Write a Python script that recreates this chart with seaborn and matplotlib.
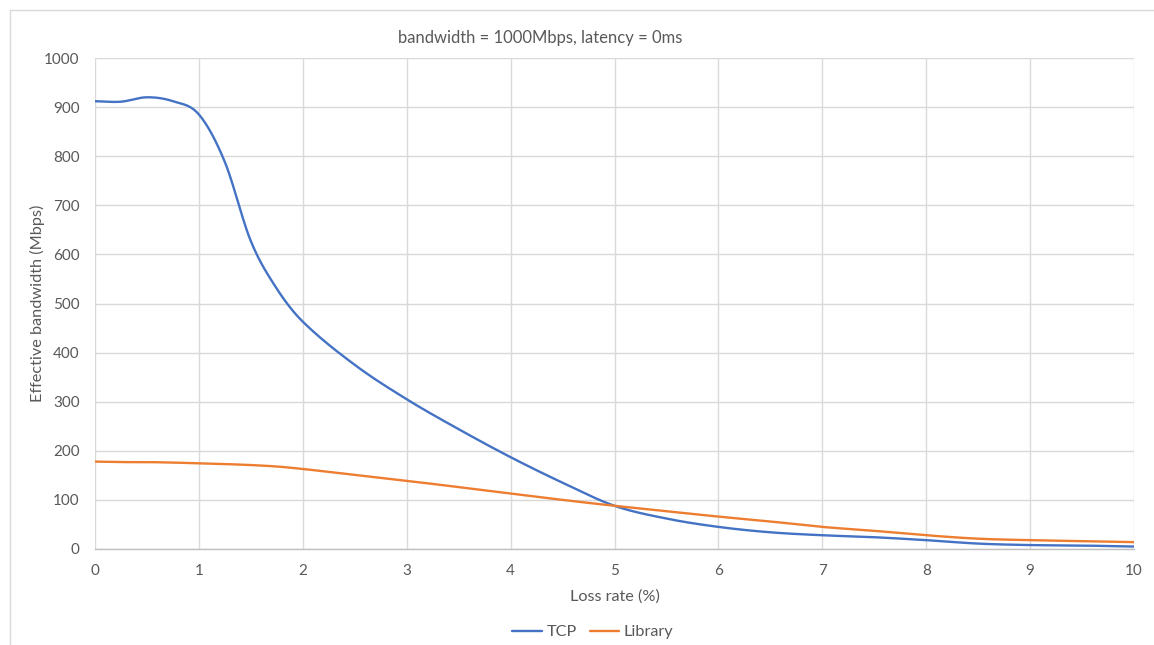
import numpy as np
import pandas as pd
import matplotlib
matplotlib.use("Agg")
import matplotlib.pyplot as plt
from matplotlib.lines import Line2D
import seaborn as sns

# Measured effective bandwidth vs. packet loss rate
loss_rate = [0, 0.25, 0.5, 0.75, 1, 1.25, 1.5, 1.75, 2, 2.5, 3, 3.5, 4, 4.5,
             5, 5.5, 6, 6.5, 7, 7.5, 8, 8.5, 9, 9.5, 10]
tcp_bw = [912, 911, 920, 912, 885, 788, 627, 530, 463, 375, 305, 244, 187, 135,
          88, 62, 45, 34, 28, 24, 18, 11, 8, 7, 5]
library_bw = [178, 177, 177, 176, 174.5, 173, 171, 168, 163, 151, 139, 126, 113, 100,
              88, 77, 66, 56, 45, 37, 28, 21, 18, 16, 14]
series_names = ["TCP", "Library"]
x_ticks = list(range(0, 11))
y_ticks = list(range(0, 1001, 100))

TITLE = "bandwidth = 1000Mbps, latency = 0ms"
XLABEL = "Loss rate (%)"
YLABEL = "Effective bandwidth (Mbps)"


def smooth_curve(x, y, n=24):
    """Catmull-Rom style smoothed line through the given points."""
    x = np.asarray(x, float)
    y = np.asarray(y, float)
    xs, ys = [], []
    for i in range(len(x) - 1):
        x0, x1 = x[i], x[i + 1]
        y0, y1 = y[i], y[i + 1]
        if i == 0:
            m0 = (y1 - y0) / (x1 - x0)
        else:
            m0 = (y[i + 1] - y[i - 1]) / (x[i + 1] - x[i - 1])
        if i == len(x) - 2:
            m1 = (y1 - y0) / (x1 - x0)
        else:
            m1 = (y[i + 2] - y[i]) / (x[i + 2] - x[i])
        h = x1 - x0
        t = np.linspace(0, 1, n, endpoint=(i == len(x) - 2))
        h00 = 2 * t**3 - 3 * t**2 + 1
        h10 = t**3 - 2 * t**2 + t
        h01 = -2 * t**3 + 3 * t**2
        h11 = t**3 - t**2
        xs.append(x0 + t * h)
        ys.append(h00 * y0 + h10 * h * m0 + h01 * y1 + h11 * h * m1)
    return np.concatenate(xs), np.concatenate(ys)


frames = []
for name, vals in zip(series_names, [tcp_bw, library_bw]):
    sx, sy = smooth_curve(loss_rate, vals)
    frames.append(pd.DataFrame({"loss": sx, "bw": sy, "series": name}))
df = pd.concat(frames, ignore_index=True)

sns.set_theme(style="white")
plt.rcParams["font.family"] = ["Lato", "DejaVu Sans"]

TEXT = "#595959"
GRID = "#d9d9d9"
palette = {"TCP": "#4472C4", "Library": "#ED7D31"}

W, H = 1154, 645
fig = plt.figure(figsize=(W / 100, H / 100), dpi=100)
ax = fig.add_axes([95 / W, 1 - 549 / H, (1134 - 95) / W, (549 - 58) / H])

sns.lineplot(data=df, x="loss", y="bw", hue="series", palette=palette,
             sort=False, linewidth=1.7, legend=False, ax=ax)

ax.set_xlim(0, 10)
ax.set_ylim(0, 1000)
ax.set_xticks(x_ticks)
ax.set_yticks(y_ticks)
ax.grid(True, color=GRID, linewidth=1.0)
ax.set_axisbelow(True)
for side in ["top", "right", "left"]:
    ax.spines[side].set_visible(False)
ax.spines["bottom"].set_color("#bfbfbf")
ax.spines["bottom"].set_linewidth(1.0)
ax.tick_params(axis="both", length=0, labelsize=11, colors=TEXT)
ax.tick_params(axis="x", pad=11)
ax.tick_params(axis="y", pad=11)

ax.set_xlabel(XLABEL, fontsize=11.7, color=TEXT, labelpad=8)
ax.set_ylabel(YLABEL, fontsize=11.7, color=TEXT)
ax.yaxis.set_label_coords(-(95 - 45) / 1039, 0.5)

fig.text(540 / W, 1 - 38 / H, TITLE, ha="center", va="center",
         fontsize=12, color=TEXT)

handles = [Line2D([0], [0], color=palette[n], linewidth=1.7) for n in series_names]
fig.legend(handles, series_names, loc="center", bbox_to_anchor=(593 / W, 1 - 632 / H),
           ncol=2, frameon=False, fontsize=11.7, labelcolor=TEXT,
           handlelength=1.8, handletextpad=0.3, columnspacing=0.8)

# chart frame edges
fig.add_artist(Line2D([9.5 / W, 9.5 / W], [0, 1 - 9.5 / H], color=GRID, linewidth=1.0))
fig.add_artist(Line2D([9.5 / W, 1], [1 - 9.5 / H, 1 - 9.5 / H], color=GRID, linewidth=1.0))

fig.savefig("out.png", dpi=100, facecolor="white")
